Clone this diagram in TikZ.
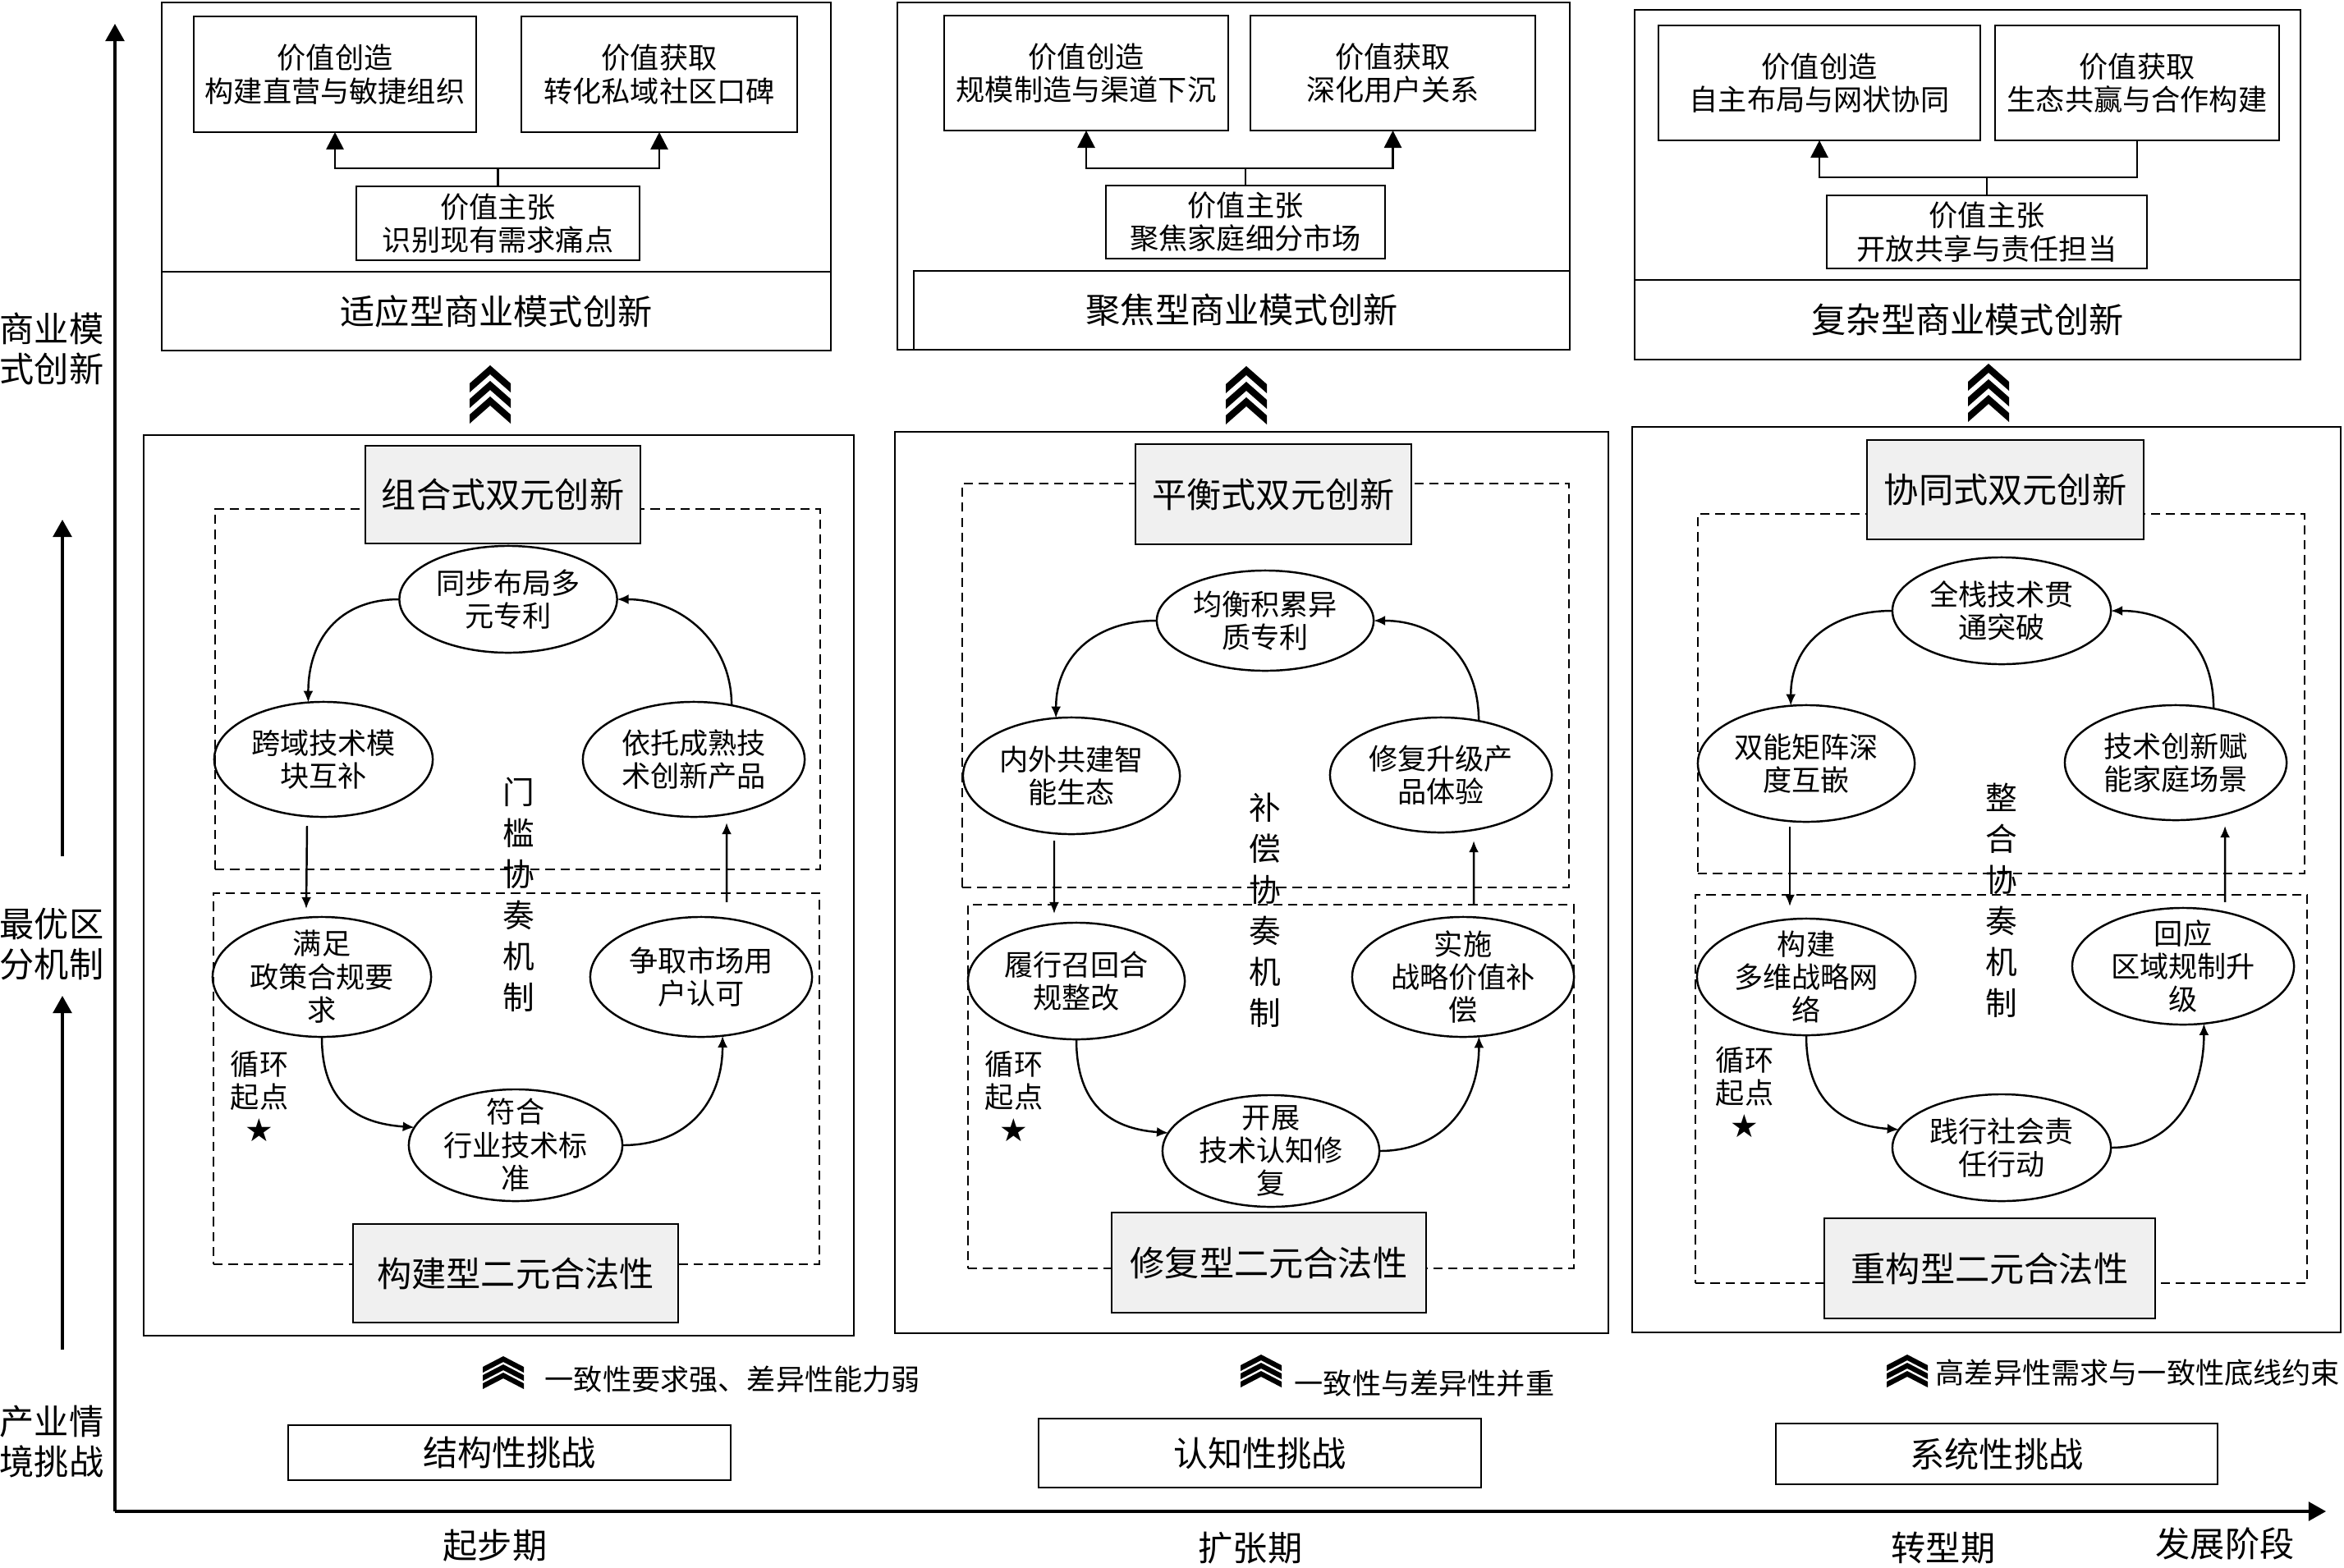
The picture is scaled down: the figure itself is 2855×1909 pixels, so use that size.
\documentclass[tikz,border=0pt]{standalone}
\usepackage{fontspec}
\setmainfont{Noto Sans CJK SC}
\newfontfamily\symf{DejaVu Sans}
\usetikzlibrary{arrows.meta,shapes.geometric,fit,calc}
\begin{document}
\begin{tikzpicture}[x=0.01cm,y=-0.01cm,
  box/.style={draw,line width=0.8pt,inner sep=0pt,outer sep=0pt},
  gbox/.style={box,fill=gray!12},
  dbox/.style={draw,line width=0.6pt,dash pattern=on 3.2pt off 2pt,inner sep=0pt},
  ell/.style={draw,ellipse,line width=0.7pt,inner sep=0pt,outer sep=0pt},
  t10/.style={font=\fontsize{10}{11.5}\selectfont,align=center},
  t12/.style={font=\fontsize{12}{14}\selectfont,align=center},
  vt/.style={font=\fontsize{11}{14.2}\selectfont,align=center},
  c10/.style={label={[t10]center:{#1}}},
  c12/.style={label={[t12]center:{#1}}},
  cyc/.style={line width=0.7pt,-{Latex[length=4pt,width=3.4pt]}},
  toparr/.style={line width=0.8pt,-{Triangle[length=6pt,width=6pt]}},
  axarr/.style={line width=0.9pt,-{Triangle[length=6pt,width=6.5pt]}},
  chevbig/.pic={\foreach \k in {0,1,2}{\fill (0,\k*19) -- ++(25,22) -- ++(0,11) -- ++(-25,-22) -- ++(-25,22) -- ++(0,-11) -- cycle;}},
  chevsmall/.pic={\foreach \k in {0,1,2}{\fill (0,\k*10) -- ++(25,13) -- ++(0,7) -- ++(-25,-13) -- ++(-25,13) -- ++(0,-7) -- cycle;}}
]
\useasboundingbox (0,0) rectangle (2855,1909);

% ---------- axes ----------
\coordinate (O) at (140,1841);
\coordinate (ytip) at (140,29);
\coordinate (xtip) at (2833,1841);
\draw[axarr] (O) -- (ytip);
\draw[axarr] (O) -- (xtip);

\node[t12] (lab1) at (63,425) {商业模\\式创新};
\node[t12] (lab2) at (63,1150) {最优区\\分机制};
\node[t12] (lab3) at (63,1756) {产业情\\境挑战};
\coordinate (s1) at (76,1644);
\coordinate (s2) at (76,1213);
\coordinate (s3) at (76,1043);
\coordinate (s4) at (76,633);
\draw[axarr] (s1) -- (s2);
\draw[axarr] (s3) -- (s4);

\node[t12] (st1) at (603,1883) {起步期};
\node[t12] (st2) at (1523,1886) {扩张期};
\node[t12] (st3) at (2367,1886) {转型期};
\node[t12] (st4) at (2710,1880) {发展阶段};

% ---------- top panels ----------
\node[box,fit={(197,3) (1012,427)}] (tp1) {};
\node[box,fit={(197,331) (1012,427)},c12={适应型商业模式创新}] (tt1) {};
\node[box,fit={(236,20) (580,161)},c10={价值创造\\构建直营与敏捷组织}] (vc1) {};
\node[box,fit={(635,20) (971,161)},c10={价值获取\\转化私域社区口碑}] (vg1) {};
\node[box,fit={(434,227) (779,317)},c10={价值主张\\识别现有需求痛点}] (vp1) {};
\coordinate (j1) at (606.5,205);
\draw[line width=0.8pt] (vp1.north) -- (j1);
\draw[toparr] (j1) -| (vc1.south);
\draw[toparr] (j1) -| (vg1.south);

\node[box,fit={(1093,3) (1912,426)}] (tp2) {};
\node[box,fit={(1113,330) (1912,426)},c12={聚焦型商业模式创新}] (tt2) {};
\node[box,fit={(1150,19) (1496,159)},c10={价值创造\\规模制造与渠道下沉}] (vc2) {};
\node[box,fit={(1523,19) (1870,159)},c10={价值获取\\深化用户关系}] (vg2) {};
\node[box,fit={(1347,226) (1687,315)},c10={价值主张\\聚焦家庭细分市场}] (vp2) {};
\coordinate (j2) at (1517,205);
\draw[line width=0.8pt] (vp2.north) -- (j2);
\draw[toparr] (j2) -| (vc2.south);
\draw[toparr] (j2) -| (vg2.south);

\node[box,fit={(1991,12) (2802,438)}] (tp3) {};
\node[box,fit={(1991,341) (2802,438)},c12={复杂型商业模式创新}] (tt3) {};
\node[box,fit={(2020,31) (2412,171)},c10={价值创造\\自主布局与网状协同}] (vc3) {};
\node[box,fit={(2430,31) (2776,171)},c10={价值获取\\生态共赢与合作构建}] (vg3) {};
\node[box,fit={(2225,238) (2615,327)},c10={价值主张\\开放共享与责任担当}] (vp3) {};
\coordinate (j3) at (2420,216);
\draw[line width=0.8pt] (vp3.north) -- (j3);
\draw[toparr] (j3) -| (vc3.south);
\draw[line width=0.8pt] (j3) -| (vg3.south);

\pic at (597,445) {chevbig};
\pic at (1518,446) {chevbig};
\pic at (2422,443) {chevbig};

% ---------- lower panel 1 ----------
\node[box,fit={(175,530) (1040,1627)}] (lp1) {};
\node[dbox,fit={(262,620) (999,1059)}] (du1) {};
\node[dbox,fit={(260,1088) (998,1540)}] (dl1) {};
\node[gbox,fit={(445,543) (780,662)},c12={组合式双元创新}] (g1) {};
\node[gbox,fit={(430,1491) (826,1611)},c12={构建型二元合法性}] (l1) {};

\node[ell,minimum width=26.5mm,minimum height=13mm,c10={同步布局多\\元专利}] (a1) at (619,730) {};
\node[ell,minimum width=26.6mm,minimum height=14mm,c10={跨域技术模\\块互补}] (a2) at (394,925) {};
\node[ell,minimum width=27mm,minimum height=14mm,c10={依托成熟技\\术创新产品}] (a3) at (845,925) {};
\node[ell,minimum width=26.6mm,minimum height=14.6mm,c10={满足\\政策合规要\\求}] (a4) at (392,1190) {};
\node[ell,minimum width=27mm,minimum height=14.6mm,c10={争取市场用\\户认可}] (a5) at (854,1190) {};
\node[ell,minimum width=26mm,minimum height=13.6mm,c10={符合\\行业技术标\\准}] (a6) at (628,1395) {};

\draw[cyc] (a1.west) .. controls +(-75,0) and +(0,-75) .. (a2.105);
\draw[cyc] ([xshift=-2mm,yshift=-1.1mm]a2.south) -- ([xshift=-1.9mm,yshift=1mm]a4.north);
\draw[cyc] (a4.south) .. controls +(0,80) and +(-70,-5) .. (a6.170);
\draw[cyc] (a6.east) .. controls +(80,0) and +(0,80) .. (a5.290);
\draw[cyc] ([xshift=3.1mm,yshift=1.8mm]a5.north) -- ([xshift=4mm,yshift=-0.7mm]a3.south);
\draw[cyc] (a3.55) .. controls +(0,-80) and +(75,0) .. (a1.east);

\node[vt] (m1) at (632,1090) {门\\槛\\协\\奏\\机\\制};
\node[t10] (q1) at (316,1335) {循环\\起点\\{\symf\fontsize{11}{11.5}\selectfont ★}};

% ---------- lower panel 2 ----------
\node[box,fit={(1090,526) (1959,1624)}] (lp2) {};
\node[dbox,fit={(1172,589) (1911,1081)}] (du2) {};
\node[dbox,fit={(1179,1102) (1917,1545)}] (dl2) {};
\node[gbox,fit={(1383,541) (1719,663)},c12={平衡式双元创新}] (g2) {};
\node[gbox,fit={(1354,1477) (1737,1599)},c12={修复型二元合法性}] (l2) {};

\node[ell,minimum width=26.4mm,minimum height=12.2mm,c10={均衡积累异\\质专利}] (b1) at (1541,756) {};
\node[ell,minimum width=26.4mm,minimum height=14.2mm,c10={内外共建智\\能生态}] (b2) at (1305,945) {};
\node[ell,minimum width=27mm,minimum height=14mm,c10={修复升级产\\品体验}] (b3) at (1755,944) {};
\node[ell,minimum width=26.4mm,minimum height=14.2mm,c10={履行召回合\\规整改}] (b4) at (1311,1195) {};
\node[ell,minimum width=27mm,minimum height=14.6mm,c10={实施\\战略价值补\\偿}] (b5) at (1782,1190) {};
\node[ell,minimum width=26.4mm,minimum height=13.6mm,c10={开展\\技术认知修\\复}] (b6) at (1548,1402) {};

\draw[cyc] (b1.west) .. controls +(-75,0) and +(0,-75) .. (b2.105);
\draw[cyc] ([xshift=-2.1mm,yshift=-0.8mm]b2.south) -- ([xshift=-2.7mm,yshift=1.1mm]b4.north);
\draw[cyc] (b4.south) .. controls +(0,80) and +(-70,-5) .. (b6.170);
\draw[cyc] (b6.east) .. controls +(80,0) and +(0,80) .. (b5.285);
\draw[cyc] ([xshift=1.3mm,yshift=1.5mm]b5.north) -- ([xshift=4mm,yshift=-1mm]b3.south);
\draw[cyc] (b3.55) .. controls +(0,-80) and +(75,0) .. (b1.east);

\node[vt] (m2) at (1541,1109) {补\\偿\\协\\奏\\机\\制};
\node[t10] (q2) at (1235,1335) {循环\\起点\\{\symf\fontsize{11}{11.5}\selectfont ★}};

% ---------- lower panel 3 ----------
\node[box,fit={(1988,520) (2851,1623)}] (lp3) {};
\node[dbox,fit={(2068,626) (2807,1064)}] (du3) {};
\node[dbox,fit={(2065,1090) (2810,1563)}] (dl3) {};
\node[gbox,fit={(2274,536) (2611,657)},c12={协同式双元创新}] (g3) {};
\node[gbox,fit={(2222,1484) (2625,1606)},c12={重构型二元合法性}] (l3) {};

\node[ell,minimum width=26.6mm,minimum height=13mm,c10={全栈技术贯\\通突破}] (c1) at (2438,744) {};
\node[ell,minimum width=26.4mm,minimum height=14.2mm,c10={双能矩阵深\\度互嵌}] (c2) at (2200,930) {};
\node[ell,minimum width=27mm,minimum height=14mm,c10={技术创新赋\\能家庭场景}] (c3) at (2650,929) {};
\node[ell,minimum width=26.6mm,minimum height=14.2mm,c10={构建\\多维战略网\\络}] (c4) at (2200,1190) {};
\node[ell,minimum width=27mm,minimum height=14.2mm,c10={回应\\区域规制升\\级}] (c5) at (2659,1177) {};
\node[ell,minimum width=26.6mm,minimum height=13mm,c10={践行社会责\\任行动}] (c6) at (2438,1398) {};

\draw[cyc] (c1.west) .. controls +(-75,0) and +(0,-75) .. (c2.105);
\draw[cyc] ([xshift=-2mm,yshift=-0.6mm]c2.south) -- ([xshift=-2mm,yshift=1.5mm]c4.north);
\draw[cyc] (c4.south) .. controls +(0,80) and +(-70,-5) .. (c6.170);
\draw[cyc] (c6.east) .. controls +(80,0) and +(0,80) .. (c5.290);
\draw[cyc] ([xshift=5.1mm,yshift=0.7mm]c5.north) -- ([xshift=6mm,yshift=-0.7mm]c3.south);
\draw[cyc] (c3.55) .. controls +(0,-80) and +(75,0) .. (c1.east);

\node[vt] (m3) at (2438,1097) {整\\合\\协\\奏\\机\\制};
\node[t10] (q3) at (2125,1330) {循环\\起点\\{\symf\fontsize{11}{11.5}\selectfont ★}};

% ---------- bottom: challenges ----------
\pic at (613,1652) {chevsmall};
\pic at (1536,1650) {chevsmall};
\pic at (2323,1650) {chevsmall};
\node[t10,anchor=west,inner sep=0pt] (d1) at (663,1680) {一致性要求强、差异性能力弱};
\node[t10,anchor=west,inner sep=0pt] (d2) at (1576,1685) {一致性与差异性并重};
\node[t10,anchor=west,inner sep=0pt] (d3) at (2357,1672) {高差异性需求与一致性底线约束};

\node[box,fit={(351,1736) (890,1803)},c12={结构性挑战}] (ch1) {};
\node[box,fit={(1265,1728) (1804,1812)},c12={认知性挑战}] (ch2) {};
\node[box,fit={(2163,1734) (2701,1808)},c12={系统性挑战}] (ch3) {};
\end{tikzpicture}
\end{document}
